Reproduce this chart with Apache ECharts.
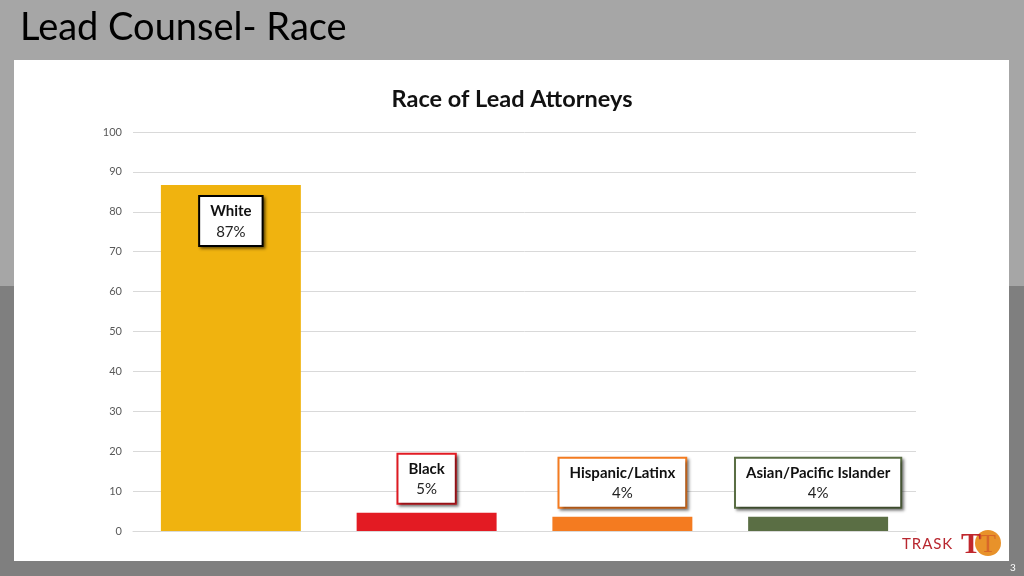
<!DOCTYPE html>
<html><head><meta charset="utf-8">
<script src="https://cdn.jsdelivr.net/npm/echarts@6/dist/echarts.min.js"></script>
<style>html,body{margin:0;padding:0;background:#a6a6a6}#c{width:1024px;height:576px}</style>
</head><body><div id="c"></div>
<script>
const categories = ['White', 'Black', 'Hispanic/Latinx', 'Asian/Pacific Islander'];
const values = [86.7, 4.6, 3.6, 3.6];
const percentLabels = ['87%', '5%', '4%', '4%'];
const barColors = ['#f0b30f', '#e31b23', '#f47b20', '#5a6e44'];
const yTicks = [0, 10, 20, 30, 40, 50, 60, 70, 80, 90, 100];

const FONT = 'Lato';
const labelPos = [
  { position: 'insideTop', distance: 12, borderColor: '#000000' },
  { position: 'top', distance: 10, borderColor: '#e31b23' },
  { position: 'top', distance: 10, borderColor: '#f47b20' },
  { position: 'top', distance: 10, borderColor: '#5a6e44' }
];

const data = values.map((v, i) => ({
  value: v,
  itemStyle: { color: barColors[i] },
  label: {
    show: true,
    position: labelPos[i].position,
    distance: labelPos[i].distance,
    formatter: () => '{n|' + categories[i] + '}\n{p|' + percentLabels[i] + '}',
    backgroundColor: '#ffffff',
    borderColor: labelPos[i].borderColor,
    borderWidth: 2,
    padding: [4, 10, 3, 10],
    shadowColor: 'rgba(0,0,0,0.45)',
    shadowBlur: 3,
    shadowOffsetX: 2,
    shadowOffsetY: 2,
    rich: {
      n: { fontFamily: FONT, fontWeight: 'bold', fontSize: 15, color: '#111', lineHeight: 21, align: 'center' },
      p: { fontFamily: FONT, fontSize: 15, color: '#222', lineHeight: 20, align: 'center' }
    }
  }
}));

const chart = echarts.init(document.getElementById('c'));
chart.setOption({
  animation: false,
  backgroundColor: 'transparent',
  graphic: [
    { type: 'rect', z: -10, shape: { x: 0, y: 0, width: 1024, height: 286 }, style: { fill: '#a6a6a6' } },
    { type: 'rect', z: -10, shape: { x: 0, y: 286, width: 1024, height: 290 }, style: { fill: '#7f7f7f' } },
    { type: 'rect', z: -9, shape: { x: 14, y: 60, width: 995, height: 501 }, style: { fill: '#ffffff' } },
    { type: 'text', z: 10, left: 20, top: 9, style: { text: 'Lead Counsel- Race', fontFamily: FONT, fontSize: 38, fill: '#000' } },
    { type: 'text', z: 10, left: 902, top: 537, style: { text: 'T\u200aR\u200aA\u200aS\u200aK', fontFamily: FONT, fontSize: 15, fill: '#b8272f' } },
    { type: 'circle', z: 10, shape: { cx: 988, cy: 543, r: 13 }, style: { fill: '#e8922a' } },
    { type: 'text', z: 11, left: 961, top: 530, style: { text: 'T', fontFamily: 'Liberation Serif', fontSize: 30, fontWeight: 'bold', fill: '#c0272d' } },
    { type: 'text', z: 11, left: 980, top: 532, style: { text: 'T', fontFamily: 'Liberation Serif', fontSize: 26, fill: 'rgba(200,60,40,0.5)' } },
    { type: 'text', z: 10, left: 1010, top: 563, style: { text: '3', fontFamily: FONT, fontSize: 10, fill: '#ffffff' } }
  ],
  title: {
    text: 'Race of Lead Attorneys',
    left: 'center',
    top: 82,
    textStyle: { fontFamily: FONT, fontSize: 23.5, fontWeight: 'bold', color: '#111' }
  },
  grid: { left: 133, right: 108, top: 132, bottom: 45 },
  xAxis: {
    type: 'category',
    data: categories,
    axisLine: { show: true, lineStyle: { color: '#d9d9d9' } },
    axisTick: { show: false },
    axisLabel: { show: false }
  },
  yAxis: {
    type: 'value',
    min: yTicks[0],
    max: yTicks[yTicks.length - 1],
    interval: 10,
    axisLine: { show: false },
    axisTick: { show: false },
    axisLabel: { fontFamily: FONT, fontSize: 11, color: '#595959', margin: 11 },
    splitLine: { lineStyle: { color: '#d9d9d9' } }
  },
  series: [{
    type: 'bar',
    data: data,
    barCategoryGap: '28.5%'
  }]
});
</script></body></html>
